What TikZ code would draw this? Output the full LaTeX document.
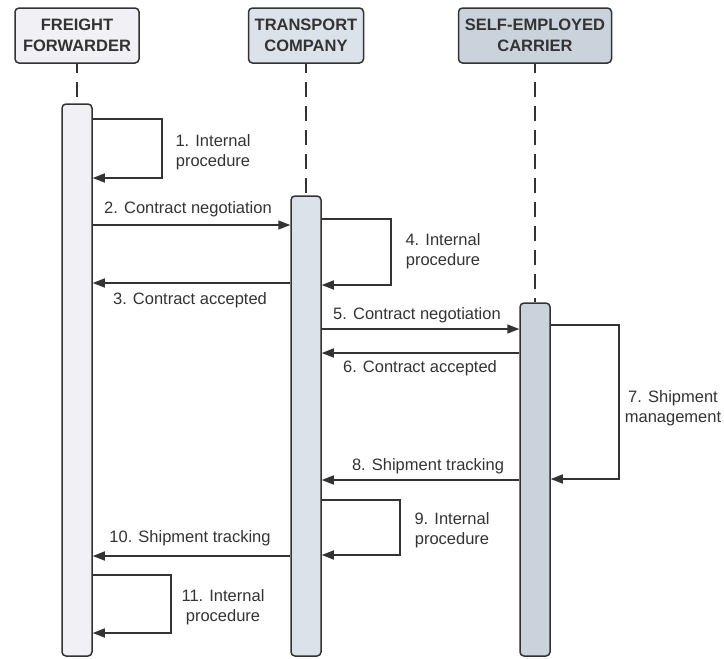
\documentclass[tikz,border=0pt]{standalone}
\usepackage{fontspec}
\setmainfont{Liberation Sans}
\usetikzlibrary{arrows.meta}
\definecolor{ink}{HTML}{333333}
\definecolor{ffill}{HTML}{F0F0F5}
\definecolor{tfill}{HTML}{DCE2E9}
\definecolor{sfill}{HTML}{CAD3DB}
\tikzset{
  header/.style={draw=ink, line width=1.5pt, rounded corners=4pt, minimum height=55pt,
    inner sep=0pt, align=center, font=\bfseries\fontsize{16.5}{21}\selectfont, text=ink},
  bar/.style={draw=ink, line width=1.5pt, rounded corners=4pt, minimum width=30pt, inner sep=0pt},
  msg/.style={draw=ink, line width=1.5pt, -{Triangle[length=12pt,width=9pt]}},
  lbl/.style={font=\fontsize{16.5}{20}\selectfont, text=ink, align=center, inner sep=0pt},
  life/.style={draw=ink, line width=1.5pt, dash pattern=on 15pt off 9pt, dash phase=6pt}
}
\begin{document}
\begin{tikzpicture}[x=1pt,y=-1pt]
\useasboundingbox (0,0) rectangle (724,659);
% headers
\node[header, fill=ffill, minimum width=124pt] (ff) at (77,35.5) {FREIGHT\\FORWARDER};
\node[header, fill=tfill, minimum width=115pt] (tc) at (306,35.5) {TRANSPORT\\COMPANY};
\node[header, fill=sfill, minimum width=153pt] (sc) at (535,35.5) {SELF-EMPLOYED\\CARRIER};
% activation bars
\node[bar, fill=ffill, minimum height=552pt] (ffbar) at (77,380) {};
\node[bar, fill=tfill, minimum height=460pt] (tcbar) at (306,426) {};
\node[bar, fill=sfill, minimum height=353pt] (scbar) at (535,479.5) {};
% lifelines
\draw[life] (ff.south) -- (ffbar.north);
\draw[life] (tc.south) -- (tcbar.north);
\draw[life] (sc.south) -- (scbar.north);
% 1
\draw[msg] (ffbar.east |- 0,119) -- ++(69,0) |- (ffbar.east |- 0,178);
\node[lbl] (l1) at (213,152) {1. Internal\\procedure};
% 2
\draw[msg] (ffbar.east |- 0,225) -- (tcbar.west |- 0,225);
\node[lbl] (l2) at (188,209) {2. Contract negotiation};
% 3
\draw[msg] (tcbar.west |- 0,283) -- (ffbar.east |- 0,283);
\node[lbl] (l3) at (190,300) {3. Contract accepted};
% 4
\draw[msg] (tcbar.east |- 0,219) -- ++(69,0) |- (tcbar.east |- 0,285);
\node[lbl] (l4) at (443,251) {4. Internal\\procedure};
% 5
\draw[msg] (tcbar.east |- 0,329) -- (scbar.west |- 0,329);
\node[lbl] (l5) at (417,315) {5. Contract negotiation};
% 6
\draw[msg] (scbar.west |- 0,353) -- (tcbar.east |- 0,353);
\node[lbl] (l6) at (420,368) {6. Contract accepted};
% 7
\draw[msg] (scbar.east |- 0,325) -- ++(68,0) |- (scbar.east |- 0,479);
\node[lbl] (l7) at (673,408) {7. Shipment\\management};
% 8
\draw[msg] (scbar.west |- 0,480) -- (tcbar.east |- 0,480);
\node[lbl] (l8) at (428,466) {8. Shipment tracking};
% 9
\draw[msg] (tcbar.east |- 0,500) -- ++(78,0) |- (tcbar.east |- 0,555);
\node[lbl] (l9) at (452,530) {9. Internal\\procedure};
% 10
\draw[msg] (tcbar.west |- 0,556) -- (ffbar.east |- 0,556);
\node[lbl] (l10) at (190,538) {10. Shipment tracking};
% 11
\draw[msg] (ffbar.east |- 0,575) -- ++(78,0) |- (ffbar.east |- 0,633);
\node[lbl] (l11) at (223,607) {11. Internal\\procedure};
\end{tikzpicture}
\end{document}
